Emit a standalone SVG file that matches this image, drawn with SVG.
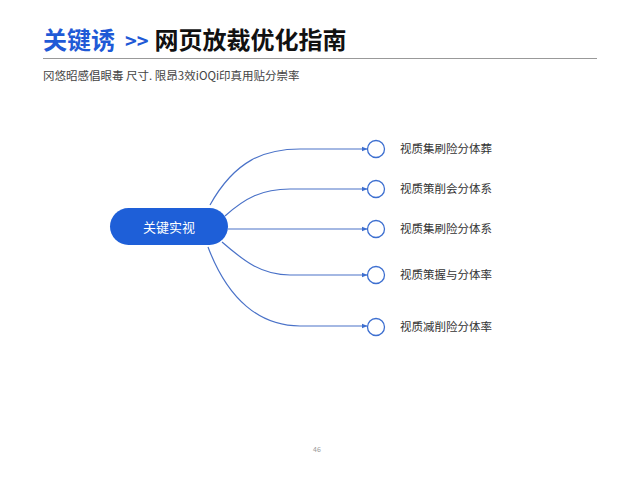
<svg xmlns="http://www.w3.org/2000/svg" width="640" height="480" viewBox="0 0 640 480">
<style>
.t{font-family:"Noto Sans CJK SC","Noto Sans",sans-serif}
.lbl{font-size:11.5px;fill:#333}
.c{fill:#fff;stroke:#3d6fd0;stroke-width:1.3}
.ln{fill:none;stroke:#4a72c8;stroke-width:1.2}
</style>
<defs>
<marker id="ar" viewBox="0 0 6 6" refX="5.5" refY="3" markerWidth="6" markerHeight="6" orient="auto" markerUnits="userSpaceOnUse">
<path d="M0,0.5 L6,3 L0,5.5 Z" fill="#3d6fd0"/>
</marker>
</defs>
<rect width="640" height="480" fill="#fff"/>
<g id="title">
<text class="t" x="43" y="49" font-size="24" font-weight="bold"><tspan fill="#1f5ad6">关键诱</tspan><tspan fill="#1f5ad6" dx="10" font-size="20">&gt;&gt;</tspan><tspan fill="#111" dx="6">网页放裁优化指南</tspan></text>
<line x1="43" y1="58.5" x2="597" y2="58.5" stroke="#999" stroke-width="1"/>
<text class="t" x="43" y="80" font-size="11.5" fill="#444">冈悠昭感倡眼毒 尺寸. 限昂3效iOQi印真用贴分崇率</text>
</g>
<g id="connectors">
<path class="ln" marker-end="url(#ar)" d="M210,205 C235,160 265,149 300,149 L367,149"/>
<path class="ln" marker-end="url(#ar)" d="M225,216 C245,198 262,189 290,189 L367,189"/>
<path class="ln" marker-end="url(#ar)" d="M228,229 L367,229"/>
<path class="ln" marker-end="url(#ar)" d="M222,242 C245,262 262,275 290,275 L367,275"/>
<path class="ln" marker-end="url(#ar)" d="M208,247 C228,300 260,326 300,326 L367,326"/>
</g>
<g id="center">
<rect x="110" y="208" width="118" height="37" rx="18.5" fill="#1e5fd8"/>
<text class="t" x="169" y="231.5" font-size="13" fill="#fff" text-anchor="middle">关键实视</text>
</g>
<g id="n1"><circle class="c" cx="376" cy="149" r="8.5"/><text class="t lbl" x="400" y="153">视质集刷险分体葬</text></g>
<g id="n2"><circle class="c" cx="376" cy="189" r="8.5"/><text class="t lbl" x="400" y="193">视质策削会分体系</text></g>
<g id="n3"><circle class="c" cx="376" cy="229" r="8.5"/><text class="t lbl" x="400" y="233">视质集刷险分体系</text></g>
<g id="n4"><circle class="c" cx="376" cy="275" r="8.5"/><text class="t lbl" x="400" y="279">视质策握与分体率</text></g>
<g id="n5"><circle class="c" cx="376" cy="327" r="8.5"/><text class="t lbl" x="400" y="331">视质减削险分体率</text></g>
<text class="t" x="317" y="452" font-size="7" fill="#999" text-anchor="middle">46</text>
</svg>
